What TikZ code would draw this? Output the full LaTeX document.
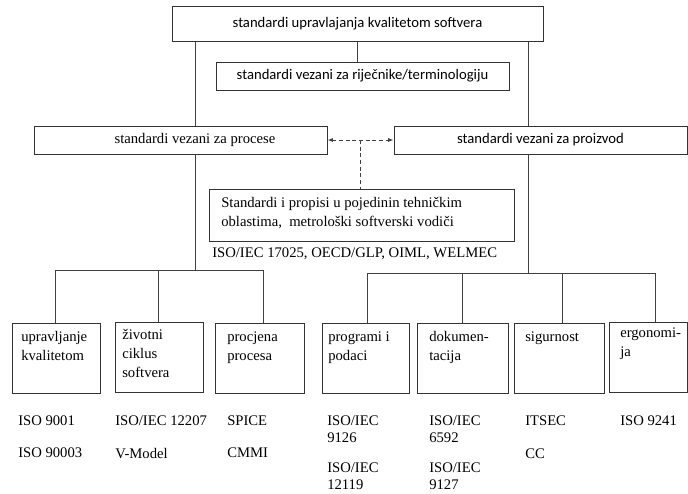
\documentclass[tikz,border=0pt]{standalone}
\usepackage{fontspec}
\setmainfont{Liberation Serif}
\newfontfamily\calib{Carlito}
\usetikzlibrary{arrows.meta,calc}
\newcommand\ttab[2][1]{{\renewcommand\arraystretch{#1}\begin{tabular}[t]{@{}l@{}}#2\end{tabular}}}
\begin{document}
\begin{tikzpicture}[x=0.75pt,y=-0.75pt,
  box/.style={draw=black!80, line width=0.75pt, inner sep=0pt},
  conn/.style={draw=black!75, line width=0.75pt},
  dsh/.style={draw=black!75, line width=0.75pt, dash pattern=on 3pt off 2pt},
  sf/.style={font=\calib\fontsize{11}{13}\selectfont},
  rm/.style={font=\fontsize{11}{14.25}\selectfont},
  lbl/.style={rm, inner sep=0pt, anchor=base west},
  smallbox/.style={box, minimum width=#1*0.75pt, minimum height=70*0.75pt},
]
\useasboundingbox (0,0) rectangle (688,493);
% top level
\node[box, sf, minimum width=371*0.75pt, minimum height=35*0.75pt] (T) at (357.5,23.5) {standardi upravlajanja kvalitetom softvera};
\node[box, sf, minimum width=293*0.75pt, minimum height=28*0.75pt] (R) at (362.5,76) {standardi vezani za riječnike/terminologiju};
\node[box, minimum width=293*0.75pt, minimum height=28*0.75pt] (P) at (180.5,140) {};
\node[rm, inner sep=0pt] (Pt) at (195,140) {standardi vezani za procese};
\node[box, sf, minimum width=293*0.75pt, minimum height=28*0.75pt] (D) at (540.5,140) {standardi vezani za proizvod};
\node[box, minimum width=305*0.75pt, minimum height=52*0.75pt] (S) at (361.5,215) {};
\node[lbl] (St) at (221,207) {\ttab[1.05]{Standardi i propisi u pojedinin tehničkim\\oblastima,\ \ metrološki softverski vodiči}};
\node[lbl] (Si) at (212,257) {ISO/IEC 17025, OECD/GLP, OIML, WELMEC};
% connectors top
\draw[conn] (T.south -| 357,0) -- (357,0 |- R.north);
\draw[conn] (195,0 |- T.south) -- (195,0 |- P.north);
\draw[conn] (528,0 |- T.south) -- (528,0 |- D.north);
\draw[dsh, {Latex[length=4pt,width=3pt]}-{Latex[length=4pt,width=3pt]}] (P.east) -- (D.west);
\coordinate (mid) at ($(P.east)!0.5!(D.west)$);
\draw[dsh] (mid) -- (mid |- S.north);
% small boxes
\node[smallbox=88] (b1) at (56,358) {};
\node[smallbox=88] (b2) at (159,357) {};
\node[smallbox=89] (b3) at (259.5,358) {};
\node[smallbox=87] (b4) at (365.5,358) {};
\node[smallbox=91] (b5) at (462.5,358) {};
\node[smallbox=90] (b6) at (559,358) {};
\node[smallbox=78] (b7) at (648,357) {};
% buses
\coordinate (lb) at (195,270);
\coordinate (rb) at (528,273);
\draw[conn] (195,0 |- P.south) -- (lb);
\draw[conn] (55,270) -- (263,270);
\draw[conn] (55,270) -- (55,0 |- b1.north);
\draw[conn] (158,270) -- (158,0 |- b2.north);
\draw[conn] (263,270) -- (263,0 |- b3.north);
\draw[conn] (528,0 |- D.south) -- (rb);
\draw[conn] (367,273) -- (655,273);
\draw[conn] (367,273) -- (367,0 |- b4.north);
\draw[conn] (462,273) -- (462,0 |- b5.north);
\draw[conn] (562,273) -- (562,0 |- b6.north);
\draw[conn] (655,273) -- (655,0 |- b7.north);
% box texts
\node[lbl] (t1) at (21,341) {\ttab[1.05]{upravljanje\\kvalitetom}};
\node[lbl] (t2) at (122,339) {\ttab{životni\\ciklus\\softvera}};
\node[lbl] (t3) at (227,341) {\ttab[1.05]{procjena\\procesa}};
\node[lbl] (t4) at (328,341) {\ttab[1.05]{programi i\\podaci}};
\node[lbl] (t5) at (429,341) {\ttab[1.05]{dokumen-\\tacija}};
\node[lbl] (t6) at (525,341) {sigurnost};
\node[lbl] (t7) at (620,337) {\ttab[1.05]{ergonomi-\\ja}};
% standards below
\node[lbl] (s1a) at (18,425) {ISO 9001};
\node[lbl] (s1b) at (18,457) {ISO 90003};
\node[lbl] (s2a) at (115,425) {ISO/IEC 12207};
\node[lbl] (s2b) at (115,458) {V-Model};
\node[lbl] (s3a) at (227,425) {SPICE};
\node[lbl] (s3b) at (227,457) {CMMI};
\node[lbl] (s4a) at (327,425) {\ttab[0.9]{ISO/IEC\\9126}};
\node[lbl] (s4b) at (327,472) {\ttab[0.9]{ISO/IEC\\12119}};
\node[lbl] (s5a) at (429,425) {\ttab[0.9]{ISO/IEC\\6592}};
\node[lbl] (s5b) at (429,472) {\ttab[0.9]{ISO/IEC\\9127}};
\node[lbl] (s6a) at (525,425) {ITSEC};
\node[lbl] (s6b) at (525,458) {CC};
\node[lbl] (s7a) at (620,425) {ISO 9241};
\end{tikzpicture}
\end{document}
